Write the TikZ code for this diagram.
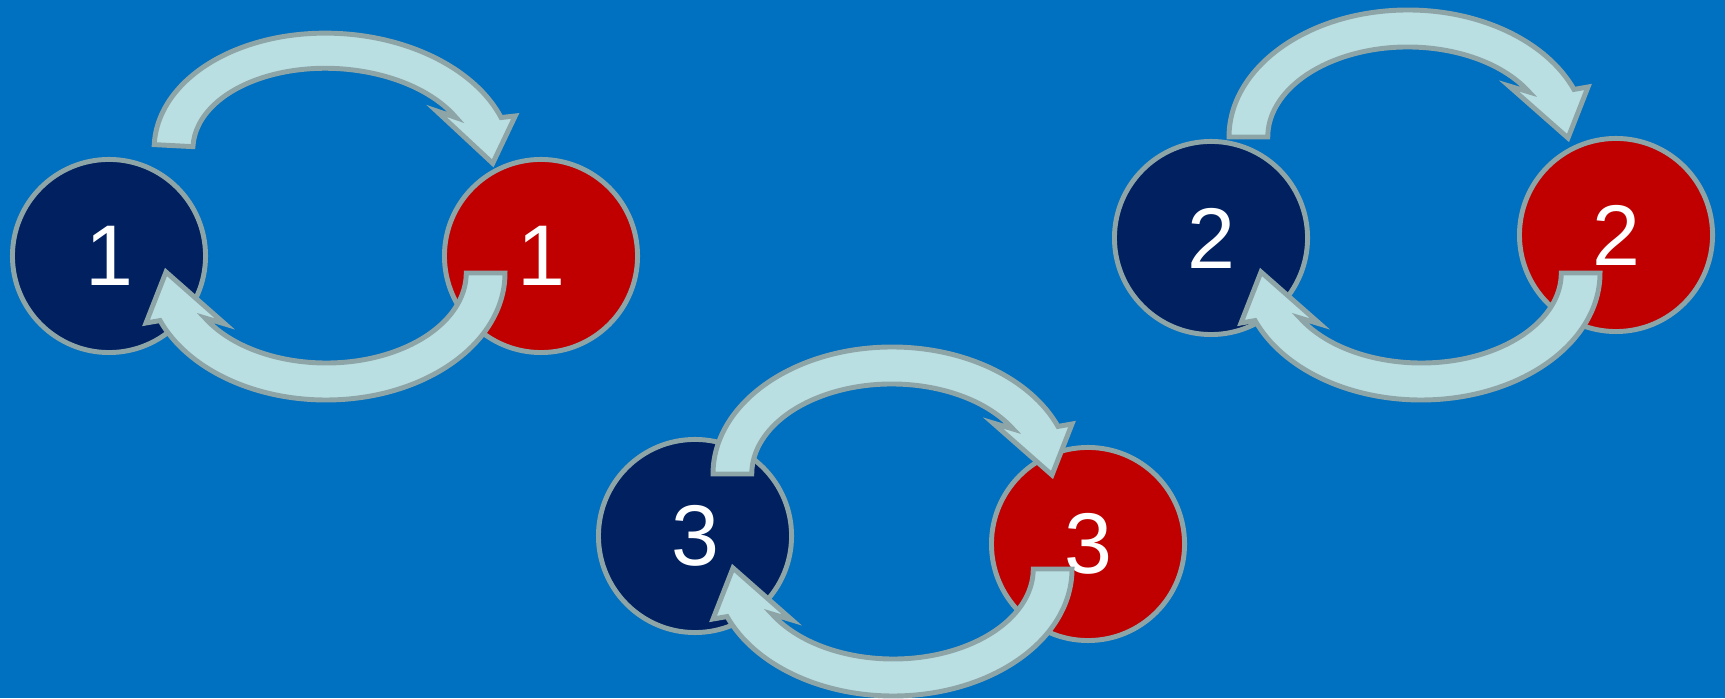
\documentclass[tikz,border=0pt]{standalone}
\usepackage{fontspec}
\setmainfont{Liberation Sans}
\usepackage{xcolor}
\usepackage{tikz}
\definecolor{slideblue}{HTML}{0070C0}
\definecolor{darknavy}{HTML}{002060}
\definecolor{darkred}{HTML}{C00000}
\definecolor{bandfill}{HTML}{B9DFE3}
\definecolor{bandline}{HTML}{8EA5A8}
\tikzstyle{navydot} = [circle,minimum size=1.93cm,draw=bandline,line width=1.4pt,fill=darknavy,text=white,font=\fontsize{24.5}{29}\selectfont]
\tikzstyle{reddot} = [navydot,fill=darkred]
\tikzstyle{band} = [fill=bandfill,draw=bandline,line width=1.4pt]
\tikzset{cyclearrow/.pic={
  \filldraw[band] (-179,0) arc[start angle=180,end angle=338,x radius=179,y radius=127]
    -- (180,-50) -- (160,1) -- (101,-51) -- (121,-45)
    arc[start angle=330,end angle=180,x radius=140,y radius=90] -- cycle;
}}

\begin{document}
\begin{tikzpicture}[x=0.01cm,y=-0.01cm]
\fill[slideblue] (0,0) rectangle (1725,698);

\node (navy1) [navydot] at (109,256) {1};
\node (red1) [reddot] at (541,256) {1};
\node (navy2) [navydot] at (1211,238) {2};
\node (red2) [reddot] at (1616,235) {2};
\node (navy3) [navydot] at (695,536) {3};
\node (red3) [reddot] at (1088,544) {3};

\pic[rotate=-3,yscale=0.95] at (333,154) {cyclearrow};
\pic[rotate=180] at (326,273) {cyclearrow};
\pic at (1408,137) {cyclearrow};
\pic[rotate=180] at (1421,273) {cyclearrow};
\pic at (892,474) {cyclearrow};
\pic[rotate=180] at (893,569) {cyclearrow};
\end{tikzpicture}
\end{document}
